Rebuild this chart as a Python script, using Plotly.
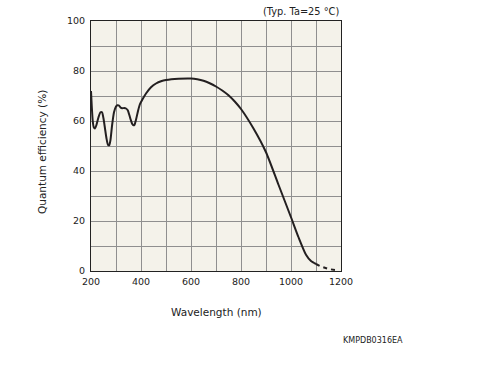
import plotly.graph_objects as go

# Solid part of the quantum efficiency curve
wl_solid = [200, 203, 207, 211, 216, 222, 230, 238, 244, 250, 256, 262, 268, 273, 278,
            284, 292, 300, 306, 312, 318, 325, 333, 340, 347, 353, 359, 365, 370, 374,
            380, 388, 396, 405, 420, 440, 460, 480, 500, 550, 600, 625, 650, 675, 700,
            725, 750, 775, 800, 850, 900, 950, 1000, 1030, 1060, 1080, 1100]
qe_solid = [72, 66, 60, 57.5, 57, 58.5, 61.5, 63.5, 63.5, 61, 57, 53, 50.5, 50.3, 52.5,
            58, 63.5, 65.8, 66.3, 66.2, 65.4, 65.1, 65.2, 65, 64.3, 62.5, 60.5, 58.8, 58.3, 58.5,
            60.5, 64, 66.8, 68.5, 71, 73.5, 75, 75.9, 76.4, 76.9, 77, 76.7, 76.1, 75.1, 73.8,
            72.2, 70.3, 67.8, 64.8, 57, 47.5, 34.5, 21.5, 13.5, 6.5, 4, 2.8]

# Dashed tail
wl_dash = [1100, 1120, 1150, 1190]
qe_dash = [2.8, 1.8, 0.8, 0.2]

x_ticks = [200, 300, 400, 500, 600, 700, 800, 900, 1000, 1100, 1200]
x_labels = ["200", "", "400", "", "600", "", "800", "", "1000", "", "1200"]
y_ticks = [0, 10, 20, 30, 40, 50, 60, 70, 80, 90, 100]
y_labels = ["0", "", "20", "", "40", "", "60", "", "80", "", "100"]

FONT = "DejaVu Sans"
fig = go.Figure()
fig.add_trace(go.Scatter(x=wl_solid, y=qe_solid, mode="lines",
                         line=dict(color="#231f20", width=2, shape="spline", smoothing=0.6),
                         showlegend=False, hoverinfo="skip"))
fig.add_trace(go.Scatter(x=wl_dash, y=qe_dash, mode="lines",
                         line=dict(color="#231f20", width=2, dash="4px,4px"),
                         showlegend=False, hoverinfo="skip"))

fig.update_layout(
    width=479, height=370,
    margin=dict(l=91, r=138, t=21, b=99, pad=0),
    paper_bgcolor="white",
    plot_bgcolor="#f4f2ea",
    font=dict(family=FONT, size=9, color="#222"),
    xaxis=dict(range=[200, 1200], tickvals=x_ticks, ticktext=x_labels,
               showgrid=True, gridcolor="#8f8f8f", gridwidth=1,
               showline=True, linecolor="#222", linewidth=1, mirror=True,
               ticks="", zeroline=False, ticklabelstandoff=2, automargin=False,
               tickfont=dict(size=9.5, family=FONT)),
    yaxis=dict(range=[0, 100], tickvals=y_ticks, ticktext=y_labels,
               showgrid=True, gridcolor="#8f8f8f", gridwidth=1,
               showline=True, linecolor="#222", linewidth=1, mirror=True,
               ticks="", zeroline=False, ticklabelstandoff=3, automargin=False,
               tickfont=dict(size=9.5, family=FONT)),
    annotations=[
        dict(text="Wavelength (nm)", xref="paper", yref="paper", x=0.5, y=-0.164,
             showarrow=False, xanchor="center", yanchor="middle",
             font=dict(size=10.5, family=FONT, color="#222")),
        dict(text="Quantum efficiency (%)", xref="paper", yref="paper", x=-0.196, y=0.476,
             showarrow=False, xanchor="center", yanchor="middle", textangle=-90,
             font=dict(size=10.5, family=FONT, color="#222")),
        dict(text="(Typ. Ta=25 °C)", xref="paper", yref="paper", x=1.0, y=1.036,
             showarrow=False, xanchor="right", yanchor="middle",
             font=dict(size=9.8, family=FONT, color="#222")),
        dict(text="KMPDB0316EA", xref="paper", yref="paper", x=1.126, y=-0.276,
             showarrow=False, xanchor="center", yanchor="middle",
             font=dict(size=8, family=FONT, color="#222")),
    ],
)

fig.write_html("out.html", config={"displayModeBar": False, "staticPlot": True},
               post_script="document.body.style.margin='0px';")
